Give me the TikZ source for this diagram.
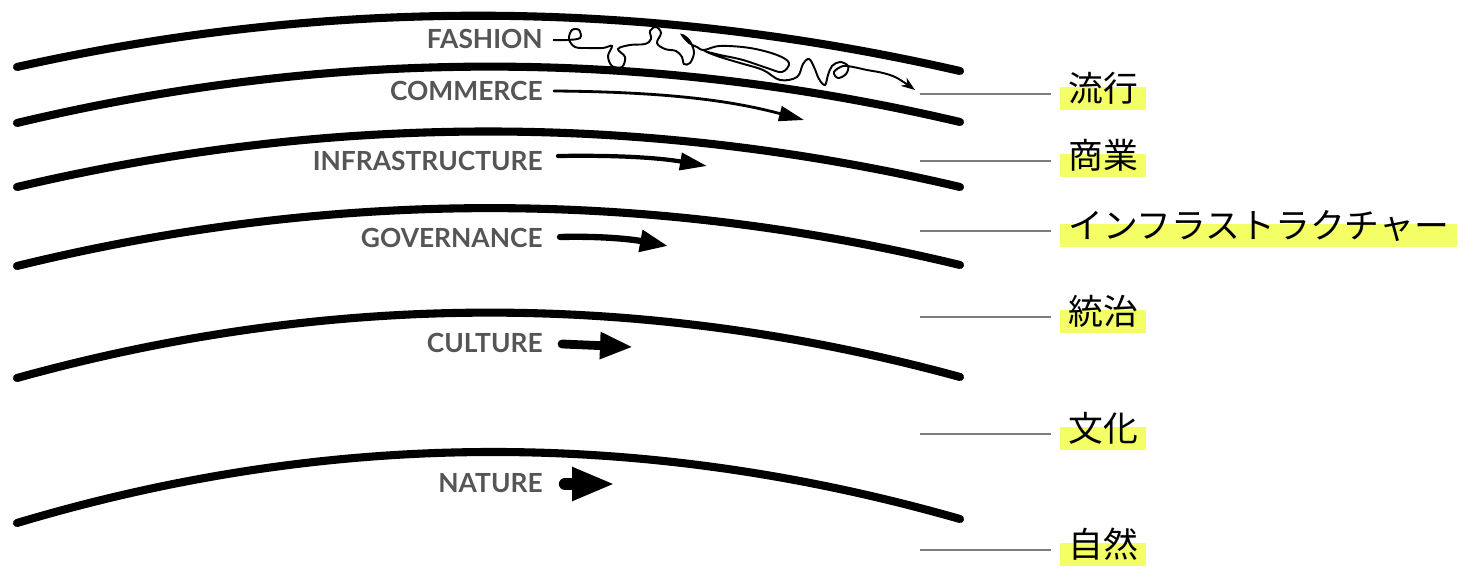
\documentclass[tikz,border=0pt]{standalone}
\usepackage{fontspec}
\setmainfont{Lato}
\newfontfamily\jpfont{Noto Sans CJK JP}
\usetikzlibrary{arrows.meta,backgrounds,calc}
\definecolor{labelgray}{RGB}{85,85,85}
\definecolor{leadgray}{RGB}{125,125,125}
\definecolor{markyellow}{RGB}{244,255,102}
\tikzset{
  stream/.style={line width=4.6pt, line cap=round},
  layername/.style={
    anchor=east,
    inner sep=0pt,
    text=labelgray,
    font=\fontsize{15}{17}\selectfont\bfseries
  },
  jplabel/.style={
    anchor=base west,
    inner xsep=0.16cm,
    inner ysep=0pt,
    font=\jpfont\fontsize{19.8}{24}\selectfont
  },
  leader/.style={draw=leadgray, line width=1.1pt},
  marker/.style={fill=markyellow},
  drift/.style={line width=1.1pt, -{Stealth[length=0.28cm, width=0.2cm]}},
  pace/.style={line cap=round}
}
\begin{document}
\begin{tikzpicture}[x=0.02cm, y=-0.02cm]
  \useasboundingbox (0,0) rectangle (1480,580);

  \draw[stream] (17,67) .. controls (331,-3) and (645,-1) .. (960,71);
  \draw[stream] (17,123) .. controls (331,48) and (645,48) .. (960,122);
  \draw[stream] (17,187) .. controls (331,113) and (645,113) .. (960,187);
  \draw[stream] (17,266) .. controls (331,189) and (645,189) .. (960,265);
  \draw[stream] (17,378) .. controls (331,291) and (645,291) .. (960,377);
  \draw[stream] (17,523) .. controls (331,429) and (645,429) .. (960,519);

  \node[layername] (fashion) at (543,39) {FASHION};
  \node[layername] (commerce) at (543,91) {COMMERCE};
  \node[layername] (infra) at (543,161) {INFRASTRUCTURE};
  \node[layername] (governance) at (543,238) {GOVERNANCE};
  \node[layername] (culture) at (543,343) {CULTURE};
  \node[layername] (nature) at (543,483) {NATURE};

  \coordinate (fashiontip) at (915,90);
  \coordinate (commercetip) at (804,120);
  \coordinate (infratip) at (707,166);
  \coordinate (governancetip) at (668,246);
  \coordinate (culturetip) at (633,347);
  \coordinate (naturetip) at (615,484);

  \draw[drift] plot[smooth, tension=0.6] coordinates {
    ($(fashion.east)+(10,1)$) (567,40) (580,38) (579,30) (572,30) (569,39)
    (575,47) (588,48) (603,48) (612,46) (608,56) (612,66) (622,67)
    (625,57) (618,49) (630,45) (645,44) (651,39) (650,31) (656,27)
    (661,33) (657,43) (665,49) (676,51) (682,57) (684,64) (690,63)
    (694,52) (689,40) (682,35) (689,43) (697,47) (704,50) (720,46)
    (750,48) (777,55) (789,63) (782,72) (767,68) (743,60) (720,55)
    (707,52) (720,57) (740,63) (763,70) (780,80) (797,77) (803,64)
    (809,59) (814,67) (819,79) (825,85) (828,75) (832,66) (840,62)
    (848,66) (846,74) (838,78) (834,72) (843,66) (853,67) (867,70)
    (883,73) (897,78) (fashiontip)};
  \draw[pace, line width=1.6pt, -{Triangle[length=0.5cm, width=0.3cm]}]
    ($(commerce.east)+(11,0)$) .. controls (680,92) and (740,103) .. (commercetip);
  \draw[pace, line width=2.4pt, -{Triangle[length=0.54cm, width=0.34cm]}]
    ($(infra.east)+(15,-5)$) .. controls (620,155) and (660,158) .. (infratip);
  \draw[pace, line width=3.6pt, -{Triangle[length=0.56cm, width=0.42cm]}]
    ($(governance.east)+(17,-1)$) .. controls (600,236) and (630,239) .. (governancetip);
  \draw[pace, line width=5pt, -{Triangle[length=0.66cm, width=0.5cm]}]
    ($(culture.east)+(19,1)$) -- (culturetip);
  \draw[pace, line width=7pt, -{Triangle[length=0.86cm, width=0.62cm]}]
    ($(nature.east)+(22,1)$) -- (naturetip);

  \node[jplabel] (jpfashion) at (1060,101.5) {流行};
  \node[jplabel] (jpcommerce) at (1060,168.5) {商業};
  \node[jplabel] (jpinfra) at (1060,238.5) {インフラストラクチャー};
  \node[jplabel] (jpgovernance) at (1060,324.5) {統治};
  \node[jplabel] (jpculture) at (1060,441.5) {文化};
  \node[jplabel] (jpnature) at (1060,557.5) {自然};

  \begin{scope}[on background layer]
    \fill[marker] ([yshift=0.29cm]jpfashion.base west) rectangle ([yshift=-0.17cm]jpfashion.base east);
    \fill[marker] ([yshift=0.29cm]jpcommerce.base west) rectangle ([yshift=-0.17cm]jpcommerce.base east);
    \fill[marker] ([yshift=0.29cm]jpinfra.base west) rectangle ([yshift=-0.17cm]jpinfra.base east);
    \fill[marker] ([yshift=0.29cm]jpgovernance.base west) rectangle ([yshift=-0.17cm]jpgovernance.base east);
    \fill[marker] ([yshift=0.29cm]jpculture.base west) rectangle ([yshift=-0.17cm]jpculture.base east);
    \fill[marker] ([yshift=0.29cm]jpnature.base west) rectangle ([yshift=-0.17cm]jpnature.base east);
  \end{scope}

  \coordinate (lead1) at (920,94);
  \coordinate (lead2) at (920,161);
  \coordinate (lead3) at (920,231);
  \coordinate (lead4) at (920,317);
  \coordinate (lead5) at (920,434);
  \coordinate (lead6) at (920,550);
  \draw[leader] (lead1) -- ($(lead1 -| jpfashion.west)+(-9,0)$);
  \draw[leader] (lead2) -- ($(lead2 -| jpcommerce.west)+(-9,0)$);
  \draw[leader] (lead3) -- ($(lead3 -| jpinfra.west)+(-9,0)$);
  \draw[leader] (lead4) -- ($(lead4 -| jpgovernance.west)+(-9,0)$);
  \draw[leader] (lead5) -- ($(lead5 -| jpculture.west)+(-9,0)$);
  \draw[leader] (lead6) -- ($(lead6 -| jpnature.west)+(-9,0)$);
\end{tikzpicture}
\end{document}
